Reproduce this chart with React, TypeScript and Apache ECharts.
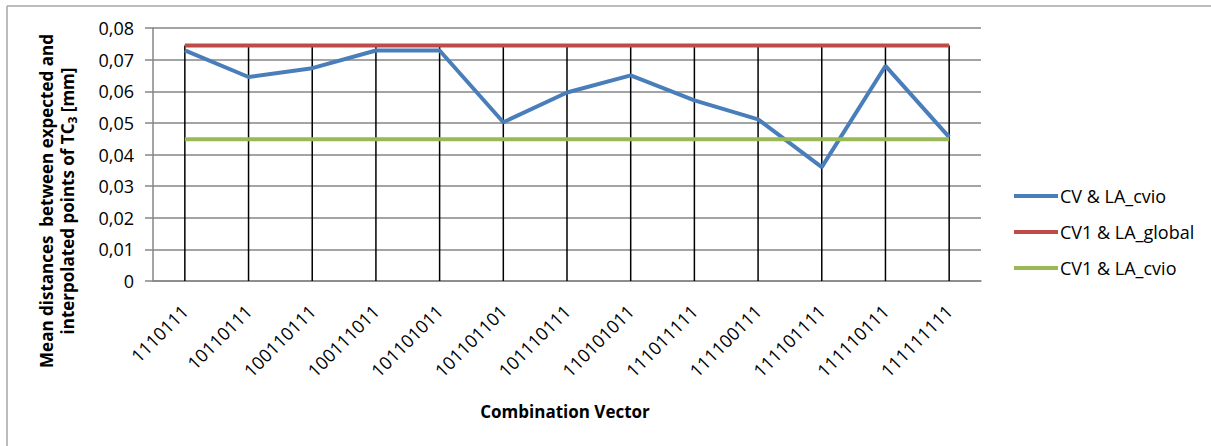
import React, { useEffect, useRef } from "react";
import * as echarts from "echarts";

const categories = [
  "1110111", "10110111", "100110111", "100111011", "101101011", "101101101",
  "101110111", "110101011", "111011111", "111100111", "111101111", "111110111", "111111111",
];
const cvLaCvio = [0.0729, 0.0645, 0.0673, 0.0729, 0.0729, 0.0502, 0.0596, 0.065, 0.0571, 0.0511, 0.036, 0.068, 0.0455];
const cv1LaGlobal = [0.0745, 0.0745, 0.0745, 0.0745, 0.0745, 0.0745, 0.0745, 0.0745, 0.0745, 0.0745, 0.0745, 0.0745, 0.0745];
const cv1LaCvio = [0.0448, 0.0448, 0.0448, 0.0448, 0.0448, 0.0448, 0.0448, 0.0448, 0.0448, 0.0448, 0.0448, 0.0448, 0.0448];
const seriesNames = ["CV & LA_cvio", "CV1 & LA_global", "CV1 & LA_cvio"];
const yTicks = { min: 0, max: 0.08, interval: 0.01 };

const FONT = "Open Sans";

export default function App() {
  const ref = useRef<HTMLDivElement>(null);
  useEffect(() => {
    if (!ref.current) return;
    const chart = echarts.init(ref.current, null, { renderer: "svg" });
    const dropHeights = categories.map((_, i) => Math.max(cvLaCvio[i], cv1LaGlobal[i], cv1LaCvio[i]));
    chart.setOption({
      animation: false,
      backgroundColor: "#ffffff",
      textStyle: { fontFamily: FONT },
      grid: { left: 153, right: 230, top: 28, bottom: 165 },
      legend: {
        orient: "vertical",
        left: 1009,
        top: 180,
        itemGap: 14,
        itemWidth: 44,
        itemHeight: 4,
        icon: "rect",
        data: seriesNames,
        textStyle: { fontFamily: FONT, fontSize: 18, color: "#000", lineHeight: 22, padding: [0, 0, 0, -3] },
      },
      xAxis: {
        type: "category",
        data: categories,
        boundaryGap: true,
        axisLine: { show: true, lineStyle: { color: "#868686", width: 1.5 } },
        axisTick: { show: false },
        axisLabel: {
          rotate: 45,
          interval: 0,
          margin: 27,
          fontFamily: FONT,
          fontSize: 18,
          color: "#000",
        },
        splitLine: { show: false },
      },
      yAxis: {
        type: "value",
        min: yTicks.min,
        max: yTicks.max,
        interval: yTicks.interval,
        axisLine: { show: true, lineStyle: { color: "#868686", width: 1.5 } },
        axisTick: { show: true, length: 8, lineStyle: { color: "#868686", width: 1.5 } },
        axisLabel: {
          margin: 19,
          fontFamily: FONT,
          fontSize: 18,
          color: "#000",
          formatter: (v: number) => (v === 0 ? "0" : v.toFixed(2).replace(".", ",")),
        },
        splitLine: { show: true, lineStyle: { color: "#868686", width: 1.5 } },
      },
      graphic: [
        { type: "line", shape: { x1: 7, y1: 6, x2: 1211, y2: 6 }, style: { stroke: "#a6a6a6", lineWidth: 1.5 } },
        { type: "line", shape: { x1: 7, y1: 6, x2: 7, y2: 446 }, style: { stroke: "#a6a6a6", lineWidth: 1.5 } },
        {
          type: "text",
          x: 565,
          y: 411,
          style: {
            text: "Combination Vector",
            fontFamily: FONT,
            fontSize: 17,
            fontWeight: "bold",
            fill: "#000",
            align: "center",
            verticalAlign: "middle",
          },
        },
        {
          type: "text",
          x: 57,
          y: 201,
          rotation: Math.PI / 2,
          style: {
            text: "Mean distances  between expected and\ninterpolated points of TC{sub|3} [mm]",
            fontFamily: FONT,
            fontSize: 17,
            fontWeight: "bold",
            fill: "#000",
            lineHeight: 21,
            align: "center",
            verticalAlign: "middle",
            rich: {
              sub: {
                fontFamily: FONT,
                fontSize: 12,
                fontWeight: "bold",
                fill: "#000",
                verticalAlign: "bottom",
                lineHeight: 21,
              },
            },
          },
        },
      ],
      series: [
        {
          name: "drop",
          type: "bar",
          data: dropHeights,
          barWidth: 1.5,
          itemStyle: { color: "#000" },
          silent: true,
          z: 1,
        },
        {
          name: seriesNames[0],
          type: "line",
          data: cvLaCvio,
          symbol: "none",
          lineStyle: { color: "#4A7EBB", width: 4 },
          itemStyle: { color: "#4A7EBB" },
          z: 3,
        },
        {
          name: seriesNames[1],
          type: "line",
          data: cv1LaGlobal,
          symbol: "none",
          lineStyle: { color: "#BE4B48", width: 4 },
          itemStyle: { color: "#BE4B48" },
          z: 3,
        },
        {
          name: seriesNames[2],
          type: "line",
          data: cv1LaCvio,
          symbol: "none",
          lineStyle: { color: "#98B954", width: 4 },
          itemStyle: { color: "#98B954" },
          z: 3,
        },
      ],
    });
    return () => chart.dispose();
  }, []);
  return (
    <div
      ref={ref}
      style={{ position: "fixed", left: 0, top: 0, width: 1211, height: 446, background: "#fff" }}
    />
  );
}
